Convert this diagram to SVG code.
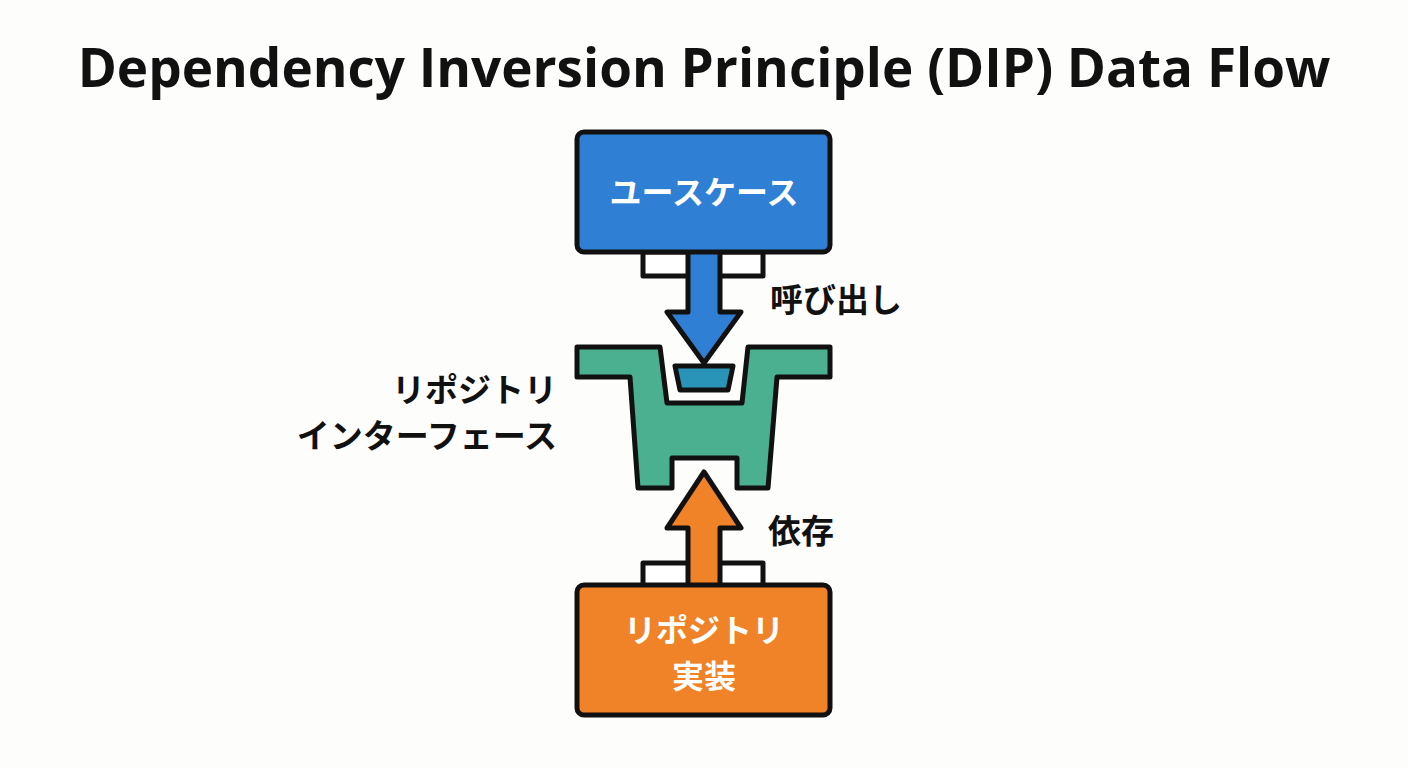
<svg xmlns="http://www.w3.org/2000/svg" width="1408" height="768" viewBox="0 0 1408 768">
<style>
.s{stroke:#111;stroke-width:5;stroke-linejoin:round}
.t{font-family:"Noto Sans CJK JP","Noto Sans",sans-serif;font-weight:700}
.w{fill:#fff;font-size:32px}
.k{fill:#111;font-size:33px}
</style>
<rect width="1408" height="768" fill="#fdfdfc"/>
<text x="704" y="87" text-anchor="middle" font-family="'Open Sans','Noto Sans',sans-serif" font-weight="700" font-size="53" fill="#111">Dependency Inversion Principle (DIP) Data Flow</text>
<g id="connectors">
<rect class="s" x="643" y="252" width="120" height="24" fill="#fff"/>
<polygon class="s" fill="#2f7fd4" points="688,250 720,250 720,312 741,312 704,363 667,312 688,312"/>
<rect class="s" x="643" y="563" width="120" height="24" fill="#fff"/>
<polygon class="s" fill="#f08228" points="704,472 741,528 720,528 720,588 688,588 688,528 667,528"/>
</g>
<g id="usecase">
<rect class="s" x="577" y="132" width="253" height="120" rx="7" fill="#2f7fd4"/>
<text class="t w" x="704" y="204" text-anchor="middle">ユースケース</text>
</g>
<g id="interface">
<path class="s" fill="#4bb08f" d="M577,347 L660,347 L667,403 L742,403 L748,347 L830,347 L830,377 L777,377 L768,488 L737,488 L737,458 L672,458 L672,488 L638,488 L630,377 L577,377 Z"/>
<polygon class="s" fill="#2a94b8" points="675,366 733,366 728,390 680,390"/>
<text class="t k" x="557" y="402" text-anchor="end">リポジトリ</text>
<text class="t k" x="557" y="448" text-anchor="end">インターフェース</text>
</g>
<g id="impl">
<rect class="s" x="577" y="585" width="253" height="130" rx="7" fill="#f08228"/>
<text class="t w" x="704" y="642" text-anchor="middle">リポジトリ</text>
<text class="t w" x="704" y="688" text-anchor="middle">実装</text>
</g>
<text class="t k" x="770" y="312">呼び出し</text>
<text class="t k" x="768" y="543">依存</text>
</svg>
